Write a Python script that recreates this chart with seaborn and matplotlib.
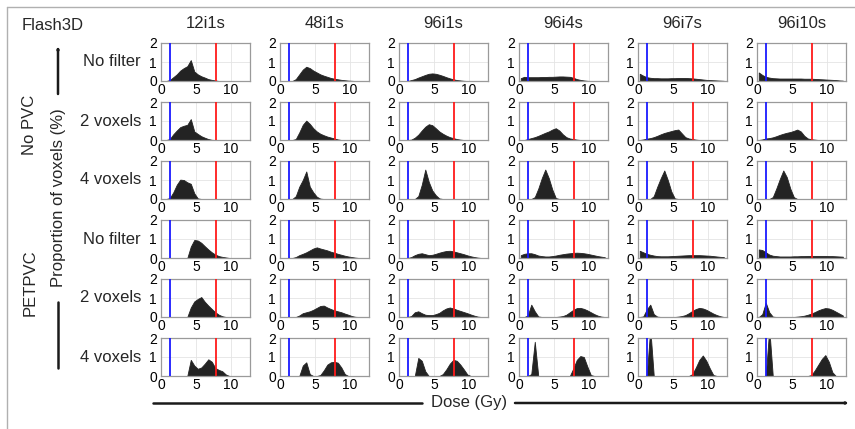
import numpy as np
import matplotlib
matplotlib.use("Agg")
import matplotlib.pyplot as plt
from matplotlib.lines import Line2D
from matplotlib.patches import FancyArrowPatch
import seaborn as sns

sns.set_style("white")
plt.rcParams['font.family'] = ['Liberation Sans', 'DejaVu Sans']
plt.rcParams['patch.force_edgecolor'] = False

# ---------------- data ----------------
columns = ["12i1s", "48i1s", "96i1s", "96i4s", "96i7s", "96i10s"]
filters = ["No filter", "2 voxels", "4 voxels", "No filter", "2 voxels", "4 voxels"]
groups = ["No PVC", "PETPVC"]
bin_edges = [0.5 * i for i in range(26)]  # dose bins (Gy)
dose_ticks = [0, 5, 10]
prop_ticks = [0, 1, 2]
threshold_low = 1.3   # blue line (Gy)
threshold_high = 7.8  # red line (Gy)

nopvc_nofilter = [
    [0, 0, 0.05, 0.2, 0.35, 0.55, 0.68, 0.78, 1.1, 0.5, 0.35, 0.25, 0.18, 0.1, 0.06, 0.03, 0, 0, 0, 0, 0, 0, 0, 0, 0],
    [0, 0, 0, 0, 0.1, 0.35, 0.6, 0.75, 0.68, 0.55, 0.45, 0.35, 0.28, 0.22, 0.16, 0.12, 0.09, 0.06, 0.04, 0.02, 0.01, 0, 0, 0, 0],
    [0, 0, 0, 0.05, 0.1, 0.18, 0.25, 0.32, 0.38, 0.4, 0.38, 0.33, 0.27, 0.2, 0.14, 0.09, 0.05, 0.03, 0.01, 0, 0, 0, 0, 0, 0],
    [0.15, 0.22, 0.2, 0.2, 0.2, 0.2, 0.21, 0.21, 0.22, 0.22, 0.23, 0.24, 0.24, 0.23, 0.22, 0.17, 0.1, 0.06, 0.03, 0.01, 0, 0, 0, 0, 0],
    [0.38, 0.28, 0.2, 0.17, 0.15, 0.15, 0.14, 0.14, 0.14, 0.15, 0.15, 0.16, 0.16, 0.16, 0.15, 0.14, 0.12, 0.1, 0.08, 0.06, 0.05, 0.04, 0.03, 0.02, 0.01],
    [0.45, 0.32, 0.22, 0.18, 0.15, 0.14, 0.13, 0.13, 0.13, 0.13, 0.13, 0.13, 0.13, 0.12, 0.12, 0.12, 0.11, 0.1, 0.09, 0.08, 0.07, 0.06, 0.05, 0.03, 0.02],
]
nopvc_2vox = [
    [0, 0, 0.05, 0.3, 0.5, 0.68, 0.75, 0.8, 1.1, 0.45, 0.32, 0.2, 0.12, 0.05, 0.01, 0, 0, 0, 0, 0, 0, 0, 0, 0, 0],
    [0, 0, 0, 0, 0.05, 0.4, 0.8, 1.02, 0.85, 0.62, 0.45, 0.33, 0.25, 0.18, 0.13, 0.08, 0.03, 0, 0, 0, 0, 0, 0, 0, 0],
    [0, 0, 0, 0.02, 0.12, 0.28, 0.5, 0.7, 0.83, 0.78, 0.62, 0.45, 0.33, 0.23, 0.15, 0.1, 0.05, 0.02, 0, 0, 0, 0, 0, 0, 0],
    [0, 0, 0.05, 0.1, 0.15, 0.22, 0.3, 0.38, 0.45, 0.55, 0.62, 0.5, 0.3, 0.15, 0.08, 0.05, 0.02, 0, 0, 0, 0, 0, 0, 0, 0],
    [0, 0.03, 0.07, 0.1, 0.15, 0.22, 0.3, 0.37, 0.42, 0.47, 0.52, 0.55, 0.35, 0.15, 0.08, 0.05, 0.02, 0, 0, 0, 0, 0, 0, 0, 0],
    [0, 0.03, 0.08, 0.1, 0.14, 0.2, 0.27, 0.33, 0.38, 0.42, 0.48, 0.55, 0.45, 0.22, 0.08, 0.04, 0.02, 0, 0, 0, 0, 0, 0, 0, 0],
]
nopvc_4vox = [
    [0, 0, 0.05, 0.35, 0.75, 1.02, 1.0, 0.88, 0.8, 0.3, 0.03, 0, 0, 0, 0, 0, 0, 0, 0, 0, 0, 0, 0, 0, 0],
    [0, 0, 0, 0, 0.15, 0.65, 1.0, 1.45, 0.65, 0.35, 0.12, 0.02, 0, 0, 0, 0, 0, 0, 0, 0, 0, 0, 0, 0, 0],
    [0, 0, 0, 0, 0, 0.15, 0.75, 1.55, 0.9, 0.45, 0.2, 0.03, 0, 0, 0, 0, 0, 0, 0, 0, 0, 0, 0, 0, 0],
    [0, 0, 0, 0, 0.1, 0.55, 1.1, 1.55, 1.1, 0.5, 0.05, 0, 0, 0, 0, 0, 0, 0, 0, 0, 0, 0, 0, 0, 0],
    [0, 0, 0, 0, 0.15, 0.65, 1.1, 1.5, 1.0, 0.4, 0.03, 0, 0, 0, 0, 0, 0, 0, 0, 0, 0, 0, 0, 0, 0],
    [0, 0, 0, 0, 0.1, 0.55, 1.05, 1.5, 1.15, 0.55, 0.1, 0, 0, 0, 0, 0, 0, 0, 0, 0, 0, 0, 0, 0, 0],
]
petpvc_nofilter = [
    [0, 0, 0, 0, 0, 0, 0, 0, 0.6, 0.95, 0.92, 0.8, 0.62, 0.45, 0.3, 0.18, 0.1, 0.06, 0.03, 0, 0, 0, 0, 0, 0],
    [0, 0, 0, 0, 0.05, 0.15, 0.22, 0.3, 0.4, 0.5, 0.56, 0.5, 0.45, 0.4, 0.33, 0.28, 0.22, 0.17, 0.12, 0.08, 0.05, 0.02, 0, 0, 0],
    [0, 0, 0, 0.05, 0.15, 0.22, 0.25, 0.2, 0.15, 0.17, 0.22, 0.28, 0.33, 0.37, 0.38, 0.35, 0.3, 0.25, 0.2, 0.14, 0.09, 0.05, 0.02, 0, 0],
    [0.15, 0.22, 0.25, 0.25, 0.2, 0.13, 0.1, 0.08, 0.08, 0.1, 0.13, 0.17, 0.2, 0.23, 0.25, 0.27, 0.28, 0.27, 0.25, 0.22, 0.18, 0.14, 0.1, 0.07, 0.04],
    [0.38, 0.3, 0.22, 0.17, 0.13, 0.1, 0.09, 0.09, 0.09, 0.1, 0.11, 0.12, 0.13, 0.14, 0.15, 0.15, 0.15, 0.15, 0.14, 0.13, 0.12, 0.1, 0.08, 0.06, 0.05],
    [0.45, 0.42, 0.3, 0.18, 0.12, 0.1, 0.08, 0.08, 0.08, 0.08, 0.09, 0.09, 0.1, 0.1, 0.11, 0.11, 0.11, 0.11, 0.11, 0.11, 0.1, 0.1, 0.09, 0.08, 0.07],
]
petpvc_2vox = [
    [0, 0, 0, 0, 0, 0, 0, 0, 0.5, 0.82, 0.95, 1.05, 0.8, 0.6, 0.42, 0.25, 0.12, 0.04, 0, 0, 0, 0, 0, 0, 0],
    [0, 0, 0, 0, 0, 0.08, 0.2, 0.25, 0.3, 0.38, 0.48, 0.58, 0.6, 0.5, 0.42, 0.35, 0.3, 0.25, 0.18, 0.12, 0.05, 0.01, 0, 0, 0],
    [0, 0, 0, 0.05, 0.25, 0.3, 0.2, 0.12, 0.1, 0.1, 0.15, 0.22, 0.35, 0.45, 0.5, 0.45, 0.38, 0.32, 0.26, 0.2, 0.13, 0.07, 0.02, 0, 0],
    [0, 0, 0.08, 0.65, 0.3, 0.03, 0, 0, 0, 0, 0, 0.02, 0.05, 0.12, 0.25, 0.38, 0.47, 0.48, 0.43, 0.35, 0.25, 0.15, 0.07, 0.02, 0],
    [0, 0.03, 0.4, 0.65, 0.15, 0.02, 0, 0, 0, 0, 0, 0.02, 0.05, 0.1, 0.2, 0.32, 0.42, 0.48, 0.45, 0.38, 0.28, 0.18, 0.1, 0.04, 0],
    [0, 0.15, 0.75, 0.25, 0.02, 0, 0, 0, 0, 0, 0, 0.02, 0.04, 0.07, 0.12, 0.18, 0.26, 0.35, 0.42, 0.47, 0.45, 0.38, 0.28, 0.18, 0.08],
]
petpvc_4vox = [
    [0, 0, 0, 0, 0, 0, 0, 0, 0.85, 0.55, 0.38, 0.45, 0.65, 0.88, 0.75, 0.42, 0.32, 0.25, 0.08, 0, 0, 0, 0, 0, 0],
    [0, 0, 0, 0, 0, 0, 0.55, 0.72, 0.1, 0, 0, 0.05, 0.3, 0.6, 0.72, 0.75, 0.7, 0.45, 0.1, 0, 0, 0, 0, 0, 0],
    [0, 0, 0, 0, 0, 0.95, 0.8, 0.25, 0, 0, 0, 0, 0.1, 0.35, 0.65, 0.85, 0.8, 0.6, 0.35, 0.08, 0, 0, 0, 0, 0],
    [0, 0, 0, 0.1, 1.8, 0, 0, 0, 0, 0, 0, 0, 0, 0, 0, 0.4, 0.85, 1.05, 1.0, 0.5, 0.05, 0, 0, 0, 0],
    [0, 0, 0, 2.5, 0, 0, 0, 0, 0, 0, 0, 0, 0, 0, 0, 0.1, 0.45, 0.85, 1.08, 0.8, 0.4, 0.05, 0, 0, 0],
    [0, 0, 0, 2.5, 0, 0, 0, 0, 0, 0, 0, 0, 0, 0, 0, 0.05, 0.3, 0.6, 0.9, 1.1, 0.75, 0.2, 0, 0, 0],
]
rows_data = [nopvc_nofilter, nopvc_2vox, nopvc_4vox, petpvc_nofilter, petpvc_2vox, petpvc_4vox]

# ---------------- layout ----------------
W, H = 855, 429
fig = plt.figure(figsize=(W / 100, H / 100), dpi=100)

def fx(px):
    return px / W

def fy(py):
    return 1 - py / H

col_left = [161, 280, 399, 519, 638, 757]
row_top = [43, 102, 161, 220, 279, 338]
ax_w, ax_h = 89, 38

centers = [(bin_edges[i] + bin_edges[i + 1]) / 2 for i in range(len(bin_edges) - 1)]
fs_lab = 12
fs_tick = 10
hist_color = "#232323"

for r, row in enumerate(rows_data):
    for c, vals in enumerate(row):
        ax = fig.add_axes([fx(col_left[c]), fy(row_top[r] + ax_h), ax_w / W, ax_h / H])
        sns.histplot(x=centers, weights=vals, bins=bin_edges, element="poly", fill=True,
                     color=hist_color, alpha=1, linewidth=0.6, ax=ax)
        for coll in ax.collections:
            coll.set_edgecolor(hist_color)
            coll.set_facecolor(hist_color)
            coll.set_alpha(1)
        ax.axvline(threshold_low, color="#1a1aff", lw=1.3, zorder=5)
        ax.axvline(threshold_high, color="#ff1a1a", lw=1.3, zorder=5)
        ax.set_xlim(0, 12.7)
        ax.set_ylim(0, 2)
        ax.set_xticks(dose_ticks)
        ax.set_yticks(prop_ticks)
        ax.set_xticklabels([str(t) for t in dose_ticks])
        ax.set_yticklabels([str(t) for t in prop_ticks])
        ax.tick_params(axis="x", length=0, pad=1.5, labelsize=fs_tick, colors="black")
        ax.tick_params(axis="y", length=0, pad=3, labelsize=fs_tick, colors="black")
        ax.grid(True, color="#e4e4e4", lw=0.6)
        ax.set_axisbelow(True)
        ax.set_xlabel("")
        ax.set_ylabel("")
        for s in ax.spines.values():
            s.set_visible(True)
            s.set_color("#9a9a9a")
            s.set_linewidth(0.9)
        if r == 0:
            fig.text(fx(col_left[c] + ax_w / 2), fy(24), columns[c], ha="center", va="center",
                     fontsize=fs_lab)
        if c == 0:
            fig.text(fx(141), fy(row_top[r] + ax_h / 2), filters[r], ha="right", va="center",
                     fontsize=fs_lab)

# header and group labels
fig.text(fx(22), fy(25), "Flash3D", ha="left", va="center", fontsize=fs_lab)
fig.text(fx(30), fy(125), groups[0], ha="center", va="center", rotation=90, fontsize=fs_lab)
fig.text(fx(30), fy(283), groups[1], ha="center", va="center", rotation=90, fontsize=fs_lab)
fig.text(fx(58), fy(198), "Proportion of voxels (%)", ha="center", va="center", rotation=90,
         fontsize=fs_lab)

# arrows
arrow_kw = dict(arrowstyle="-|>,head_length=0.8,head_width=0.35", color="#1a1a1a", lw=1.8,
                shrinkA=0, shrinkB=0)
fig.add_artist(FancyArrowPatch((fx(58), fy(94)), (fx(58), fy(46)),
                               transform=fig.transFigure, **arrow_kw))
fig.add_artist(Line2D([fx(58), fx(58)], [fy(302), fy(368)], transform=fig.transFigure,
                      color="#1a1a1a", lw=1.8))
fig.text(fx(469), fy(403), "Dose (Gy)", ha="center", va="center", fontsize=fs_lab)
fig.add_artist(Line2D([fx(153), fx(422)], [fy(403), fy(403)], transform=fig.transFigure,
                      color="#1a1a1a", lw=1.8))
fig.add_artist(FancyArrowPatch((fx(515), fy(403)), (fx(849), fy(403)),
                               transform=fig.transFigure, **arrow_kw))

# figure frame (top and left edges)
fig.add_artist(Line2D([fx(7), fx(855)], [fy(7), fy(7)], transform=fig.transFigure,
                      color="#b0b0b0", lw=1))
fig.add_artist(Line2D([fx(7), fx(7)], [fy(7), fy(429)], transform=fig.transFigure,
                      color="#b0b0b0", lw=1))

fig.savefig("out.png", dpi=100)
